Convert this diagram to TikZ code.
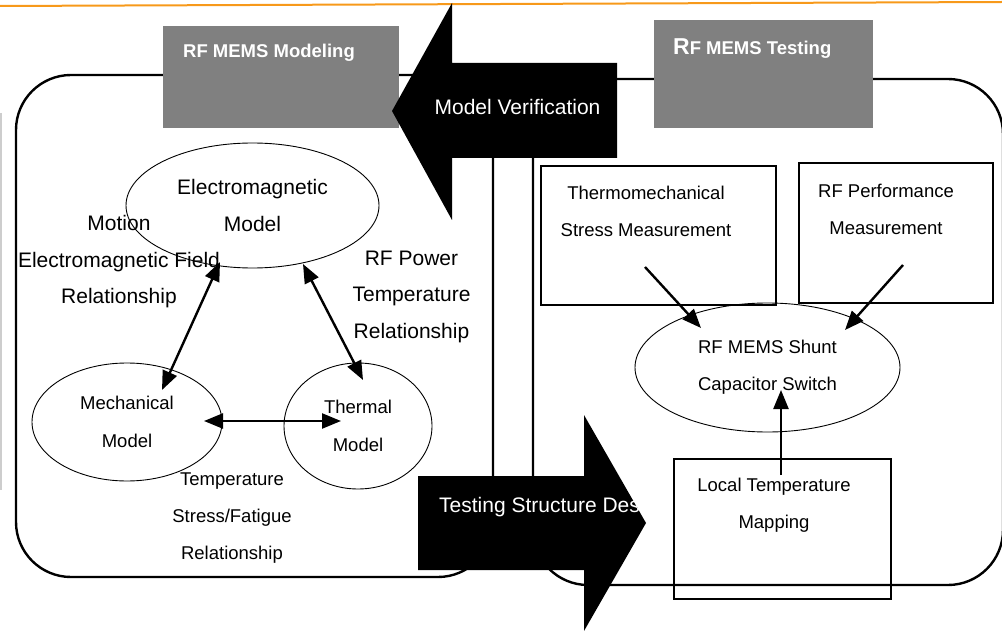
\documentclass[tikz,border=0pt]{standalone}
\usepackage{fontspec}
\setmainfont{Liberation Sans}
\usetikzlibrary{arrows.meta,shapes.geometric,calc}
\definecolor{orangeline}{RGB}{247,153,26}
\definecolor{boxgray}{RGB}{128,128,128}
\definecolor{sidegray}{RGB}{205,205,205}
\begin{document}
\begin{tikzpicture}[x=1pt,y=-1pt,
  frame/.style={line width=2.4pt, rounded corners=55pt},
  graybox/.style={fill=boxgray, draw=none, inner sep=0pt},
  titletext/.style={text=white, font=\bfseries\fontsize{18.5}{22}\selectfont, anchor=west, inner sep=0pt},
  bigarrow/.style={fill=black, draw=none},
  arrowtext/.style={text=white, font=\fontsize{21}{25}\selectfont, inner sep=0pt},
  model/.style={draw, ellipse, line width=0.9pt, inner sep=0pt, align=center},
  mbox/.style={draw, rectangle, line width=1.1pt, inner sep=0pt},
  bigtxt/.style={font=\fontsize{21}{36.5}\selectfont, align=center, inner sep=0pt},
  smalltxt/.style={font=\fontsize{18.5}{37}\selectfont, align=center, inner sep=0pt},
  conn/.style={line width=2.4pt, -{Triangle[length=19pt,width=15pt]}},
  dconn/.style={line width=2.4pt, {Triangle[length=19pt,width=15pt]}-{Triangle[length=19pt,width=15pt]}},
]
\useasboundingbox (0,0) rectangle (1002,631);
% top orange rule and side grey rule
\draw[orangeline, line width=2pt] (0,6) -- (1002,2);
\draw[sidegray, line width=1.5pt] (1,113) -- (1,490);
% the two rounded frames
\draw[frame] (16,75) rectangle (493,577);
\draw[frame] (533,79) rectangle (1003,585);
% grey title boxes
\node[graybox, minimum width=236pt, minimum height=102pt] (modbox) at (281,77) {};
\node[titletext] (modtitle) at (183,52.5) {RF MEMS Modeling};
\node[graybox, minimum width=219pt, minimum height=108pt] (testbox) at (763.5,74) {};
\node[titletext] (testtitle) at (673,48.5) {{\fontsize{23}{25}\selectfont R}F MEMS Testing};
% Model verification arrow (pointing left)
\fill[bigarrow] (617,63) -- (452,63) -- (452,3) -- (392,111) -- (452,220) -- (452,158) -- (617,158) -- cycle;
\node[arrowtext] (mvtext) at (517.5,107) {Model Verification};
% Testing structure design arrow (pointing right)
\fill[bigarrow] (418,476) -- (584,476) -- (584,415) -- (646,523) -- (584,631) -- (584,570) -- (418,570) -- cycle;
\begin{scope}
\clip (418,476) -- (584,476) -- (584,415) -- (646,523) -- (584,631) -- (584,570) -- (418,570) -- cycle;
\node[arrowtext, anchor=west] (tsdtext) at (439,507) {Testing Structure Design};
\end{scope}
% modeling ellipses
\node[model, minimum width=253pt, minimum height=125pt, font=\fontsize{21}{37}\selectfont] (em) at (252.5,205.5) {Electromagnetic\\Model};
\node[model, minimum width=190pt, minimum height=118pt, font=\fontsize{18.5}{38}\selectfont] (mech) at (127,422) {Mechanical\\Model};
\node[model, minimum width=148pt, minimum height=126pt, font=\fontsize{18.5}{38}\selectfont] (therm) at (358,426) {Thermal\\Model};
% relationship labels
\node[bigtxt] (lblmotion) at (119,262) {Motion\\Electromagnetic Field\\Relationship};
\node[bigtxt] (lblrf) at (411.5,296.5) {RF Power\\Temperature\\Relationship};
\node[smalltxt] (lbltemp) at (232,518.5) {Temperature\\Stress/Fatigue\\Relationship};
% testing boxes
\node[mbox, minimum width=235pt, minimum height=139pt] (thermo) at (658.5,235.5) {};
\node[smalltxt] (thermotext) at (646,211.5) {Thermomechanical\\Stress Measurement};
\node[mbox, minimum width=194pt, minimum height=140pt] (rfperf) at (896,233) {};
\node[smalltxt] (rfperftext) at (886,209) {RF Performance\\Measurement};
\node[mbox, minimum width=217pt, minimum height=140pt] (local) at (782.5,529) {};
\node[smalltxt] (localtext) at (774,505) {Local Temperature\\Mapping};
\node[model, minimum width=265pt, minimum height=129pt, font=\fontsize{18.5}{37}\selectfont] (shunt) at (767.5,367.5) {RF MEMS Shunt\\Capacitor Switch};
% connectors
\draw[dconn] ($(em.center)+(-32.5,56.5)$) -- ($(mech.center)+(35,-32)$);
\draw[dconn] ($(em.center)+(50.5,58.5)$) -- ($(therm.center)+(5,-46)$);
\draw[dconn] ($(mech.center)+(77,-1)$) -- ($(therm.center)+(-17,-5)$);
\draw[conn] ($(thermo.center)+(-13.5,31.5)$) -- ($(shunt.center)+(-66.5,-39.5)$);
\draw[conn] ($(rfperf.center)+(7,32)$) -- ($(shunt.center)+(77.5,-37.5)$);
\draw[conn] ($(local.center)+(-1.5,-54)$) -- ($(shunt.center)+(13.5,22.5)$);
\end{tikzpicture}
\end{document}
